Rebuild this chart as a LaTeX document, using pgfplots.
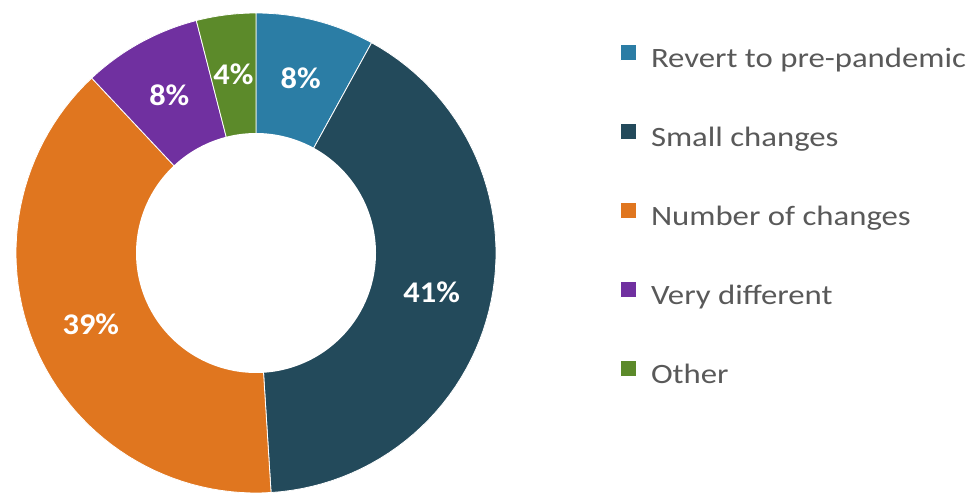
\documentclass[border=0pt]{standalone}
\usepackage{pgfplots}
\pgfplotsset{compat=1.18}
\usepackage{fontspec}
\setmainfont{Carlito}
\newfontfamily\legfont[FakeStretch=1.17]{Carlito}
\newfontfamily\lblfont[FakeStretch=1.08]{Carlito}

% shares in percent, clockwise from 12 o'clock
\def\vA{8}  % Revert to pre-pandemic
\def\vB{41} % Small changes
\def\vC{39} % Number of changes
\def\vD{8}  % Very different
\def\vE{4}  % Other

\pgfmathsetmacro\aA{90}
\pgfmathsetmacro\aB{\aA-3.6*\vA}
\pgfmathsetmacro\aC{\aB-3.6*\vB}
\pgfmathsetmacro\aD{\aC-3.6*\vC}
\pgfmathsetmacro\aE{\aD-3.6*\vD}
\pgfmathsetmacro\aF{\aE-3.6*\vE}

\def\cx{256}\def\cy{240}\def\Ro{240}\def\Ri{120}\def\Rl{180}

\definecolor{cRevert}{HTML}{2B7DA5}
\definecolor{cSmall}{HTML}{234A5B}
\definecolor{cNumber}{HTML}{E0761F}
\definecolor{cVery}{HTML}{7030A0}
\definecolor{cOther}{HTML}{5C8A2A}
\definecolor{legtext}{HTML}{595959}

\begin{document}
\begin{tikzpicture}
\useasboundingbox (0,0) rectangle (972pt,493pt);
\begin{axis}[
  at={(0,0)}, anchor=south west,
  scale only axis, width=972pt, height=493pt,
  xmin=0, xmax=972, ymin=0, ymax=493,
  hide axis, clip=false,
  samples=60,
  legend style={at={(axis cs:620,449)}, anchor=north west, draw=none, fill=none,
    inner sep=0pt, row sep=48.5pt,
    font=\legfont\fontsize{28}{34}\selectfont\color{legtext},
    nodes={inner sep=0pt, text height=21pt, text depth=7pt},
    /tikz/every even column/.append style={column sep=0pt}},
  legend cell align=left,
  legend image code/.code={\fill[#1] (0pt,0pt) rectangle (16pt,16pt); \path (0pt,0pt) -- (30pt,0pt);},
  every axis plot/.append style={draw=white, line width=0.8pt},
]
\addplot[fill=cRevert, domain=\aB:\aA] ({\cx+\Ro*cos(x)},{\cy+\Ro*sin(x)}) -- (axis cs:\cx,\cy) -- cycle;
\addlegendentry{Revert to pre-pandemic}
\addplot[fill=cSmall, domain=\aC:\aB] ({\cx+\Ro*cos(x)},{\cy+\Ro*sin(x)}) -- (axis cs:\cx,\cy) -- cycle;
\addlegendentry{Small changes}
\addplot[fill=cNumber, domain=\aD:\aC] ({\cx+\Ro*cos(x)},{\cy+\Ro*sin(x)}) -- (axis cs:\cx,\cy) -- cycle;
\addlegendentry{Number of changes}
\addplot[fill=cVery, domain=\aE:\aD] ({\cx+\Ro*cos(x)},{\cy+\Ro*sin(x)}) -- (axis cs:\cx,\cy) -- cycle;
\addlegendentry{Very different}
\addplot[fill=cOther, domain=\aF:\aE] ({\cx+\Ro*cos(x)},{\cy+\Ro*sin(x)}) -- (axis cs:\cx,\cy) -- cycle;
\addlegendentry{Other}
% hole
\addplot[fill=white, draw=none, domain=0:360, samples=180, forget plot] ({\cx+\Ri*cos(x)},{\cy+\Ri*sin(x)}) -- cycle;

\tikzset{lbl/.style={text=white, font=\lblfont\fontsize{30}{36}\selectfont\bfseries}}
\node[lbl] at (axis cs:{\cx+\Rl*cos((\aA+\aB)/2)},{\cy+\Rl*sin((\aA+\aB)/2)}) {\vA\%};
\node[lbl] at (axis cs:{\cx+\Rl*cos((\aB+\aC)/2)},{\cy+\Rl*sin((\aB+\aC)/2)}) {\vB\%};
\node[lbl] at (axis cs:{\cx+\Rl*cos((\aC+\aD)/2)},{\cy+\Rl*sin((\aC+\aD)/2)}) {\vC\%};
\node[lbl] at (axis cs:{\cx+\Rl*cos((\aD+\aE)/2)},{\cy+\Rl*sin((\aD+\aE)/2)}) {\vD\%};
\node[lbl] at (axis cs:{\cx+\Rl*cos((\aE+\aF)/2)},{\cy+\Rl*sin((\aE+\aF)/2)}) {\vE\%};
\end{axis}
\end{tikzpicture}
\end{document}
